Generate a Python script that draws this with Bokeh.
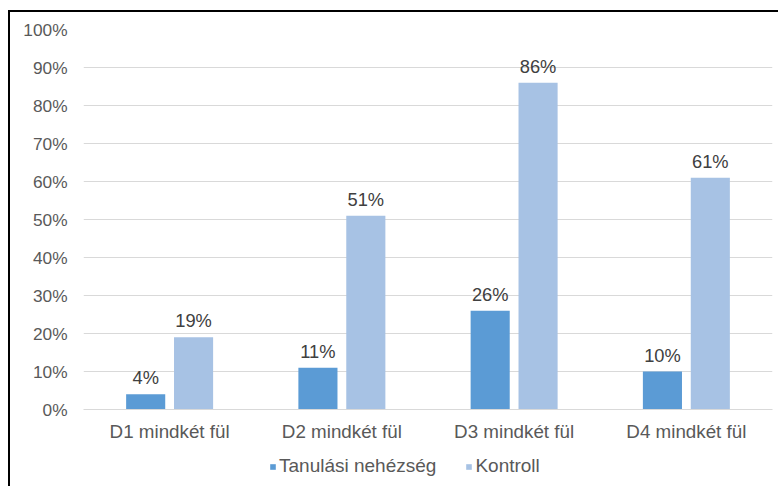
from bokeh.plotting import figure
from bokeh.layouts import column
from bokeh.models import (ColumnDataSource, FactorRange, Legend, LegendItem,
                          PrintfTickFormatter, LabelSet)
from bokeh.transform import dodge
from bokeh.core.properties import value
from bokeh.embed import file_html
from bokeh.resources import INLINE

# Share of respondents (percent) per test condition
categories = ["D1 mindkét fül", "D2 mindkét fül", "D3 mindkét fül", "D4 mindkét fül"]
tanulasi = [4, 11, 26, 10]
kontroll = [19, 51, 86, 61]
y_ticks = [0, 10, 20, 30, 40, 50, 60, 70, 80, 90, 100]

series_names = ["Tanulási nehézség", "Kontroll"]
colors = ["#5b9bd5", "#a7c2e4"]

FONT = "Liberation Sans"
LABEL_GREY = "#595959"
GRID_GREY = "#d9d9d9"

source = ColumnDataSource(dict(
    cat=categories,
    tan=tanulasi,
    kon=kontroll,
    tan_txt=[f"{v}%" for v in tanulasi],
    kon_txt=[f"{v}%" for v in kontroll],
))

p = figure(
    width=768, height=432,
    x_range=FactorRange(*categories, range_padding=0),
    y_range=(0, 100),
    output_backend="svg", toolbar_location=None,
    min_border_left=73, min_border_right=6,
    min_border_top=17, min_border_bottom=35,
    background_fill_color="white", border_fill_color="white",
    outline_line_color=None,
)

bw = 0.227
off = 0.139
p.vbar(x=dodge("cat", -off, range=p.x_range), top="tan", width=bw,
       source=source, fill_color=colors[0], line_color=None)
p.vbar(x=dodge("cat", off, range=p.x_range), top="kon", width=bw,
       source=source, fill_color=colors[1], line_color=None)

# value labels above each bar
for col, txt, dx in (("tan", "tan_txt", -off), ("kon", "kon_txt", off)):
    p.add_layout(LabelSet(
        x=dodge("cat", dx, range=p.x_range), y=col, text=txt, source=source,
        text_align="center", text_baseline="alphabetic", y_offset=10,
        text_font=value(FONT), text_font_size="18.3px", text_color="#404040",
    ))

# axes
p.yaxis.ticker = y_ticks
p.yaxis.formatter = PrintfTickFormatter(format="%d%%")
p.yaxis.axis_line_color = None
p.yaxis.major_tick_line_color = None
p.yaxis.minor_tick_line_color = None
p.yaxis.major_tick_out = 0
p.yaxis.major_label_standoff = 16
p.yaxis.major_label_text_font = FONT
p.yaxis.major_label_text_font_size = "17.3px"
p.yaxis.major_label_text_color = LABEL_GREY

p.xaxis.axis_line_color = GRID_GREY
p.xaxis.major_tick_line_color = None
p.xaxis.minor_tick_line_color = None
p.xaxis.major_tick_out = 0
p.xaxis.major_label_standoff = 11
p.xaxis.major_label_text_font = FONT
p.xaxis.major_label_text_font_size = "18.8px"
p.xaxis.major_label_text_color = LABEL_GREY

p.xgrid.grid_line_color = None
p.ygrid.grid_line_color = GRID_GREY
p.ygrid.grid_line_width = 1

# legend strip underneath the chart (key glyphs sit outside its visible range)
lg = figure(
    width=768, height=42, x_range=(0, 1), y_range=(0, 1),
    x_axis_location=None, y_axis_location=None,
    output_backend="svg", toolbar_location=None,
    min_border=0, outline_line_color=None,
    background_fill_color="white", border_fill_color="white",
)
lg.grid.visible = False
keys = [lg.vbar(x=[-5], top=[-5], width=0.1, fill_color=c, line_color=None) for c in colors]

legend = Legend(
    items=[LegendItem(label=name, renderers=[r]) for name, r in zip(series_names, keys)],
    orientation="horizontal", location=(186, 9),
    glyph_width=7, glyph_height=7, label_standoff=3, spacing=29,
    label_text_font=FONT, label_text_font_size="19px",
    label_text_color=LABEL_GREY, label_height=22,
    border_line_color=None, background_fill_alpha=0,
    margin=0, padding=10,
)
lg.add_layout(legend)

# framed chart area: black rule along the top and left edge
layout = column(
    p, lg, spacing=0,
    styles={
        "margin-left": "8px", "margin-top": "10px",
        "border-left": "2px solid black", "border-top": "2px solid black",
    },
)

open("out.html", "w").write(file_html(layout, INLINE))
